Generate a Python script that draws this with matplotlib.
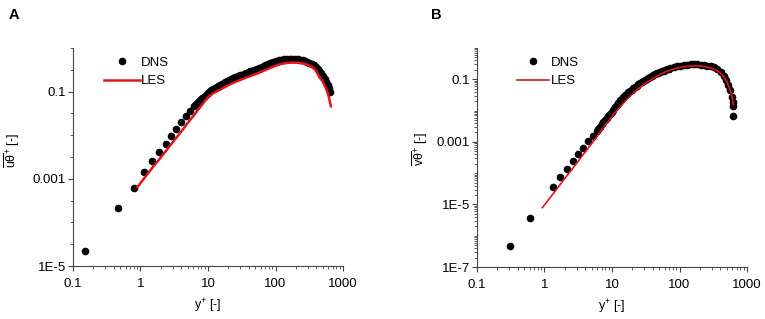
import matplotlib
matplotlib.use("Agg")
import matplotlib.pyplot as plt
from matplotlib.ticker import FixedLocator, FixedFormatter, LogLocator, NullFormatter

plt.rcParams['font.family'] = ['Liberation Sans', 'DejaVu Sans']
plt.rcParams['mathtext.fontset'] = 'custom'
plt.rcParams['mathtext.rm'] = 'Liberation Sans'
plt.rcParams['mathtext.it'] = 'Liberation Sans'
plt.rcParams['mathtext.bf'] = 'Liberation Sans:bold'

# ---- panel A : streamwise heat flux ----
dns_a_y = [0.15, 0.47, 0.80, 1.13, 1.50, 1.90, 2.36, 2.83, 3.4, 4.0, 4.7, 5.4,
           6.3, 6.75, 7.2, 7.7, 8.2, 8.75, 9.3, 9.9, 10.5, 11.2, 12, 12.7, 13.5,
           14.2, 15, 16, 17, 18, 19, 20.5, 22, 23.5, 25, 26.5, 28, 30, 32, 34, 36,
           38, 40, 42.5, 45, 47.5, 50, 53, 56, 59.5, 63, 66.5, 70, 74, 78, 82.5, 87,
           92, 97, 102.5, 108, 114, 120, 133, 147, 162, 178, 195, 213,
           232, 252, 273, 295, 318, 342, 367, 393, 420, 448, 477, 507, 537, 567,
           597, 625, 650]
dns_a_v = [2.2e-5, 2.1e-4, 6.3e-4, 1.4e-3, 2.5e-3, 4.1e-3, 6.4e-3, 9.7e-3, 0.014,
           0.0196, 0.027, 0.035, 0.046, 0.051, 0.057, 0.063, 0.07, 0.077, 0.085,
           0.092, 0.1, 0.107, 0.115, 0.122, 0.13, 0.136, 0.143, 0.151, 0.16, 0.167,
           0.175, 0.185, 0.195, 0.204, 0.212, 0.22, 0.228, 0.237, 0.245, 0.254,
           0.262, 0.271, 0.28, 0.29, 0.30, 0.31, 0.32, 0.333, 0.345, 0.357, 0.37,
           0.385, 0.40, 0.415, 0.43, 0.445, 0.46, 0.475, 0.49, 0.503, 0.515, 0.528,
           0.54, 0.555, 0.565, 0.572, 0.572,
           0.565, 0.555, 0.54, 0.52, 0.50, 0.48, 0.455, 0.43, 0.40, 0.37, 0.335,
           0.30, 0.265, 0.23, 0.195, 0.165, 0.14, 0.12, 0.10]
les_a_y = [0.9, 1.2, 1.5, 2.0, 2.5, 3.0, 4.0, 5.0, 6.0, 7.0, 8.0, 9.0, 10, 12, 15,
           20, 25, 30, 40, 50, 60, 70, 80, 100, 120, 150, 180, 220, 260, 300, 350,
           400, 450, 500, 550, 600, 640, 660]
les_a_v = [6.5e-4, 1.15e-3, 1.8e-3, 3.1e-3, 4.8e-3, 6.9e-3, 0.012, 0.019, 0.027,
           0.037, 0.048, 0.061, 0.074, 0.092, 0.11, 0.14, 0.165, 0.185, 0.22, 0.25,
           0.28, 0.31, 0.34, 0.39, 0.43, 0.455, 0.465, 0.46, 0.44, 0.41, 0.37, 0.30,
           0.21, 0.17, 0.125, 0.09, 0.058, 0.046]

# ---- panel B : wall-normal heat flux ----
dns_b_y = [0.31, 0.62, 1.32, 1.70, 2.13, 2.67, 3.17, 3.76, 4.47, 5.18, 5.9, 6.25,
           6.6, 7.0, 7.4, 7.85, 8.3, 8.8, 9.3, 9.85, 10.4, 11.0, 11.7, 12.4, 13.1,
           13.9, 14.7, 15.6, 16.5, 17.5, 18.5, 19.6, 20.7, 22, 23.2, 24.6, 26, 27.5,
           29, 30.7, 32.5, 34.5, 36.5, 38.7, 41, 43.5, 46, 48.7, 51.5, 54.7, 58,
           61.5, 65, 69, 73, 82, 92, 103, 116, 130, 146, 164,
           184, 206, 231, 259, 290, 325, 364, 408, 450, 490, 530, 565, 595, 615,
           622, 627]
dns_b_v = [4.7e-7, 3.8e-6, 3.5e-5, 7.8e-5, 1.4e-4, 2.5e-4, 4.2e-4, 6.5e-4, 1.04e-3,
           1.5e-3, 2.2e-3, 2.6e-3, 3.0e-3, 3.6e-3, 4.3e-3, 5.1e-3, 5.9e-3, 6.9e-3,
           8.0e-3, 9.3e-3, 0.0108, 0.0128, 0.0155, 0.018, 0.021, 0.024, 0.027,
           0.0305, 0.034, 0.038, 0.042, 0.047, 0.052, 0.0575, 0.063, 0.0695, 0.076,
           0.083, 0.09, 0.0975, 0.105, 0.1125, 0.12, 0.1285, 0.137, 0.146, 0.155,
           0.1635, 0.172, 0.181, 0.19, 0.199, 0.208, 0.2165, 0.225, 0.242, 0.258,
           0.272, 0.283, 0.292, 0.298, 0.30,
           0.298, 0.292, 0.282, 0.272, 0.262, 0.24, 0.21, 0.17, 0.128, 0.095, 0.066,
           0.044, 0.028, 0.019, 0.0137, 0.0066]
les_b_y = [0.93, 1.2, 1.5, 2.0, 2.5, 3.0, 4.0, 5.0, 6.0, 7.0, 8.0, 10, 12, 15, 20,
           25, 30, 40, 50, 60, 80, 100, 130, 160, 200, 250, 300, 350, 400, 450, 500,
           550, 590, 615, 625]
les_b_v = [7.9e-6, 1.6e-5, 3.0e-5, 6.8e-5, 1.25e-4, 2.1e-4, 4.7e-4, 8.8e-4, 1.5e-3,
           2.4e-3, 3.5e-3, 6.5e-3, 0.0105, 0.018, 0.034, 0.052, 0.07, 0.105, 0.14,
           0.168, 0.21, 0.238, 0.26, 0.268, 0.265, 0.25, 0.225, 0.195, 0.16, 0.122,
           0.085, 0.052, 0.032, 0.021, 0.0155]

x_ticks = [0.1, 1, 10, 100, 1000]
x_labels = ['0.1', '1', '10', '100', '1000']
ya_ticks = [1e-5, 1e-3, 1e-1]
ya_labels = ['1E-5', '0.001', '0.1']
yb_ticks = [1e-7, 1e-5, 1e-3, 1e-1]
yb_labels = ['1E-7', '1E-5', '0.001', '0.1']

fs = 9.5
fig = plt.figure(figsize=(7.65, 3.19), dpi=100)
axA = fig.add_axes([0.0954, 0.1661, 0.353, 0.6834])
axB = fig.add_axes([0.6235, 0.1630, 0.353, 0.6865])


def style(ax, yt, yl, ylim, ysubs):
	ax.set_xscale('log')
	ax.set_yscale('log')
	ax.set_xlim(0.1, 1000)
	ax.set_ylim(*ylim)
	for s in ['top', 'right']:
		ax.spines[s].set_visible(False)
	for s in ['left', 'bottom']:
		ax.spines[s].set_linewidth(0.8)
		ax.spines[s].set_color('#444444')
	ax.xaxis.set_major_locator(FixedLocator(x_ticks))
	ax.xaxis.set_major_formatter(FixedFormatter(x_labels))
	ax.xaxis.set_minor_locator(LogLocator(base=10, subs=range(2, 10)))
	ax.xaxis.set_minor_formatter(NullFormatter())
	ax.yaxis.set_major_locator(FixedLocator(yt))
	ax.yaxis.set_major_formatter(FixedFormatter(yl))
	ax.yaxis.set_minor_locator(LogLocator(base=10, subs=ysubs, numticks=20))
	ax.yaxis.set_minor_formatter(NullFormatter())
	ax.tick_params(which='major', direction='out', length=3.5, width=0.8,
				   labelsize=fs, color='#444444')
	ax.tick_params(axis='x', which='major', pad=5)
	ax.tick_params(axis='y', which='major', pad=1.5)
	ax.tick_params(which='minor', direction='out', length=2, width=0.6,
				   color='#444444')
	ax.set_xlabel(r'y$^{+}$ [-]', fontsize=9)


style(axA, ya_ticks, ya_labels, (1e-5, 1.0), [1.0, 3.16])
style(axB, yb_ticks, yb_labels, (1e-7, 1.0), range(1, 10))

axA.plot(dns_a_y, dns_a_v, 'o', color='black', ms=5.5, mec='none', label='DNS')
axA.plot(les_a_y, les_a_v, '-', color='#e0141b', lw=1.8, label='LES')
axB.plot(dns_b_y, dns_b_v, 'o', color='black', ms=5.5, mec='none', label='DNS')
axB.plot(les_b_y, les_b_v, '-', color='#e0141b', lw=1.2, label='LES')

axA.set_ylabel(r'$\overline{u\theta}^{+}$ [-]', fontsize=9)
axB.set_ylabel(r'$\overline{v\theta}^{+}$ [-]', fontsize=9)
axA.yaxis.set_label_coords(-0.19, 0.53)
axB.yaxis.set_label_coords(-0.175, 0.54)
axA.xaxis.set_label_coords(0.5, -0.14)
axB.xaxis.set_label_coords(0.5, -0.14)

axA.legend(loc='upper left', bbox_to_anchor=(0.115, 0.96), frameon=False,
		   fontsize=fs, handlelength=2.7, handletextpad=0.1, borderpad=0,
		   borderaxespad=0, labelspacing=0.45)
axB.legend(loc='upper left', bbox_to_anchor=(0.15, 0.96), frameon=False,
		   fontsize=fs, handlelength=2.4, handletextpad=0.1, borderpad=0,
		   borderaxespad=0, labelspacing=0.45)

fig.text(0.0176, 0.953, 'A', fontsize=10.5, fontweight='bold', ha='center', va='center')
fig.text(0.570, 0.953, 'B', fontsize=10.5, fontweight='bold', ha='center', va='center')

fig.savefig('out.png', dpi=100)
